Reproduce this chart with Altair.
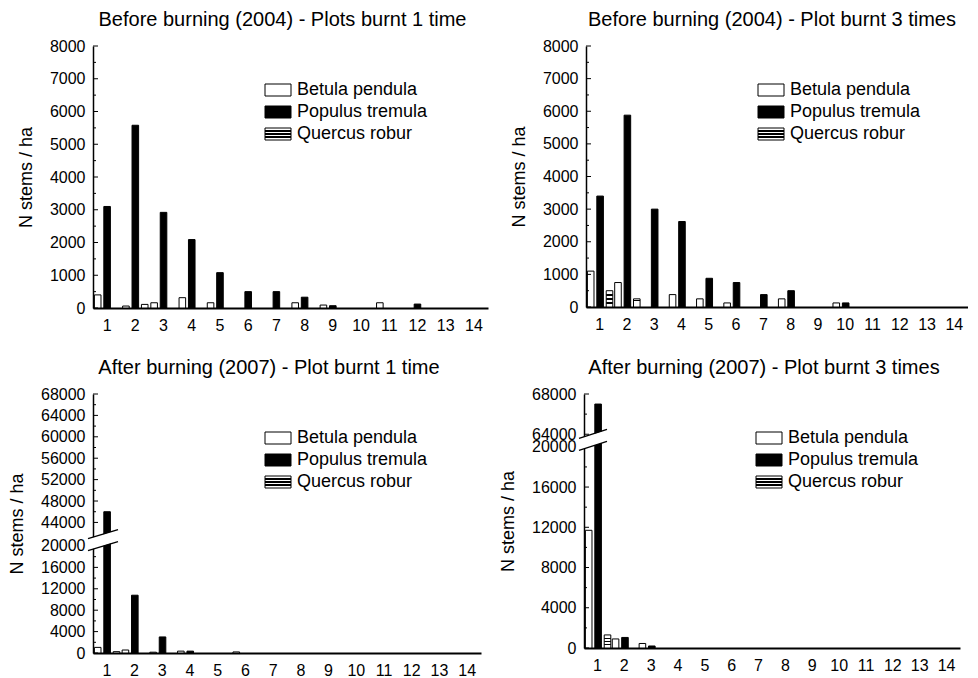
import altair as alt
import pandas as pd

FONT = "Liberation Sans"
CLASSES = list(range(1, 15))
SPECIES = ["Betula pendula", "Populus tremula", "Quercus robur"]

# Before burning (2004) - Plots burnt 1 time
B1_BETULA = [400, 60, 160, 315, 160, 0, 0, 160, 90, 0, 160, 0, 0, 0]
B1_POPULUS = [3100, 5580, 2920, 2090, 1080, 500, 500, 330, 70, 0, 0, 120, 0, 0]
B1_QUERCUS = [0, 110, 0, 0, 0, 0, 0, 0, 0, 0, 0, 0, 0, 0]

# Before burning (2004) - Plot burnt 3 times
B3_BETULA = [1100, 750, 0, 380, 250, 125, 0, 250, 0, 125, 0, 0, 0, 0]
B3_POPULUS = [3400, 5880, 3000, 2620, 880, 750, 380, 500, 0, 125, 0, 0, 0, 0]
B3_QUERCUS = [500, 250, 0, 0, 0, 0, 0, 0, 0, 0, 0, 0, 0, 0]

# After burning (2007) - Plot burnt 1 time
A1_BETULA = [1050, 560, 150, 350, 0, 200, 0, 0, 0, 0, 0, 0, 0, 0]
A1_POPULUS = [46000, 10800, 3000, 350, 0, 0, 0, 0, 0, 0, 0, 0, 0, 0]
A1_QUERCUS = [250, 0, 0, 0, 0, 0, 0, 0, 0, 0, 0, 0, 0, 0]

# After burning (2007) - Plot burnt 3 times
A3_BETULA = [11700, 900, 450, 0, 0, 0, 0, 0, 0, 0, 0, 0, 0, 0]
A3_POPULUS = [67000, 1050, 200, 0, 0, 0, 0, 0, 0, 0, 0, 0, 0, 0]
A3_QUERCUS = [1300, 0, 0, 0, 0, 0, 0, 0, 0, 0, 0, 0, 0, 0]

# axis ticks (original units)
TOP_MAJOR = list(range(0, 8001, 1000))
TOP_MINOR = list(range(500, 8000, 1000))
BL_MAJOR = list(range(0, 20001, 4000)) + list(range(44000, 68001, 4000))
BL_MINOR = list(range(2000, 20000, 4000)) + list(range(46000, 68000, 4000))
BR_MAJOR = list(range(0, 20001, 4000)) + [64000, 68000]
BR_MINOR = list(range(2000, 20000, 4000)) + [66000]

STRIPES = {
    "gradient": "linear", "x1": 0, "y1": 0, "x2": 0, "y2": 1,
    "stops": [
        {"offset": 0, "color": "white"}, {"offset": 0.2, "color": "white"},
        {"offset": 0.2, "color": "black"}, {"offset": 0.3, "color": "black"},
        {"offset": 0.3, "color": "white"}, {"offset": 0.45, "color": "white"},
        {"offset": 0.45, "color": "black"}, {"offset": 0.55, "color": "black"},
        {"offset": 0.55, "color": "white"}, {"offset": 0.7, "color": "white"},
        {"offset": 0.7, "color": "black"}, {"offset": 0.8, "color": "black"},
        {"offset": 0.8, "color": "white"}, {"offset": 1, "color": "white"},
    ],
}
FILLS = ["white", "black", STRIPES]


def make_fwd(lo=None, hi=None, gap=None):
    if lo is None:
        return lambda v: v
    return lambda v: v if v <= lo else v - hi + lo + gap


def panel(title, series, width, height, ymax, major, minor, fwd, label_expr,
          brk=None, dx=0):
    rows = []
    for sp, vals in zip(SPECIES, series):
        for c, v in zip(CLASSES, vals):
            rows.append({"cls": c, "species": sp, "value": v, "y": fwd(v)})
    df = pd.DataFrame(rows)
    yscale = alt.Scale(domain=[0, ymax], nice=False, zero=True)
    yaxis = alt.Axis(title="N stems / ha", values=[fwd(v) for v in major],
                     labelExpr=label_expr, ticks=False, tickSize=0,
                     labelPadding=8, titlePadding=14, grid=False,
                     domainColor="black", domainWidth=1.5,
                     labelOverlap=False)
    x = alt.X("cls:O", scale=alt.Scale(domain=CLASSES, paddingInner=0, paddingOuter=0),
              axis=alt.Axis(title=None, labelAngle=0, ticks=False, tickSize=0,
                            labelPadding=9, domainWidth=2, domainColor="black",
                            grid=False))
    xo = alt.XOffset("species:N", scale=alt.Scale(domain=SPECIES, paddingInner=0.3,
                                                  paddingOuter=0.15))
    y = alt.Y("y:Q", scale=yscale, axis=yaxis)
    base = alt.Chart(df).encode(x=x, xOffset=xo, y=y)
    layers = []
    for sp, fill in zip(SPECIES, FILLS):
        layers.append(
            base.transform_filter((alt.datum.species == sp) & (alt.datum.value > 0))
            .mark_bar(fill=fill, stroke="black", strokeWidth=1)
        )
    # inward axis ticks
    for vals, ln in [(major, 5), (minor, 3)]:
        tdf = pd.DataFrame({"y": [fwd(v) for v in vals]})
        layers.append(
            alt.Chart(tdf).mark_rule(color="black", strokeWidth=1).encode(
                y=alt.Y("y:Q", scale=yscale, axis=yaxis),
                x=alt.value(0), x2=alt.value(ln))
        )
    # axis break
    if brk is not None:
        c, half, rise, xa, xb = brk
        for off, col, w in [(0, "white", 11), (half, "black", 1.3), (-half, "black", 1.3)]:
            bdf = pd.DataFrame({"y": [c + off - rise / 2], "y2": [c + off + rise / 2]})
            layers.append(
                alt.Chart(bdf).mark_rule(color=col, strokeWidth=w, strokeCap="butt").encode(
                    y=alt.Y("y:Q", scale=yscale, axis=yaxis), y2="y2:Q",
                    x=alt.value(xa), x2=alt.value(xb))
            )
    # legend
    for i, (sp, fill) in enumerate(zip(SPECIES, FILLS)):
        yc = 44 + 22 * i
        ld = pd.DataFrame({"species": [sp]})
        layers.append(
            alt.Chart(ld).mark_rect(fill=fill, stroke="black", strokeWidth=1).encode(
                x=alt.value(172), x2=alt.value(198),
                y=alt.value(yc - 6), y2=alt.value(yc + 6))
        )
        layers.append(
            alt.Chart(ld).mark_text(align="left", baseline="middle", fontSize=18,
                                    font=FONT, color="black").encode(
                x=alt.value(204), y=alt.value(yc), text="species:N")
        )
    return alt.layer(*layers).properties(
        width=width, height=height,
        title=alt.TitleParams(text=title, fontSize=20, font=FONT, fontWeight="normal",
                              color="black", offset=5, anchor="middle", dx=dx, dy=-3),
    )


fwd_top = make_fwd()
fwd_bl = make_fwd(20000, 44000, 4400)
fwd_br = make_fwd(20000, 64000, 1250)

lab_top = "format(datum.value, 'd')"
lab_bl = "datum.value > 20000 ? format(datum.value + 19600, 'd') : format(datum.value, 'd')"
lab_br = "datum.value > 20000 ? format(datum.value + 42750, 'd') : format(datum.value, 'd')"

tl = panel("Before burning (2004) - Plots burnt 1 time",
           [B1_BETULA, B1_POPULUS, B1_QUERCUS], 395, 262, 8000,
           TOP_MAJOR, TOP_MINOR, fwd_top, lab_top, dx=-8)
tr = panel("Before burning (2004) - Plot burnt 3 times",
           [B3_BETULA, B3_POPULUS, B3_QUERCUS], 382, 261, 8000,
           TOP_MAJOR, TOP_MINOR, fwd_top, lab_top, dx=-5)
bl = panel("After burning (2007) - Plot burnt 1 time",
           [A1_BETULA, A1_POPULUS, A1_QUERCUS], 388, 259, fwd_bl(68000),
           BL_MAJOR, BL_MINOR, fwd_bl, lab_bl,
           brk=(21100, 1127, 1690, -5, 25), dx=-18)
br = panel("After burning (2007) - Plot burnt 3 times",
           [A3_BETULA, A3_POPULUS, A3_QUERCUS], 376, 254, fwd_br(68000),
           BR_MAJOR, BR_MINOR, fwd_br, lab_br,
           brk=(20680, 596, 895, -5, 23), dx=-8)

chart = alt.vconcat(
    alt.hconcat(tl, tr, spacing=22),
    alt.hconcat(bl, br, spacing=18),
    spacing=25,
).configure_view(stroke=None).configure_axis(
    labelFont=FONT, labelFontSize=16, labelColor="black",
    titleFont=FONT, titleFontSize=18, titleFontWeight="normal", titleColor="black",
).properties(
    padding={"left": 0, "top": 2, "right": 0, "bottom": 0},
    background="white",
)

chart.save("out.html", embed_options={"renderer": "svg", "actions": False})
